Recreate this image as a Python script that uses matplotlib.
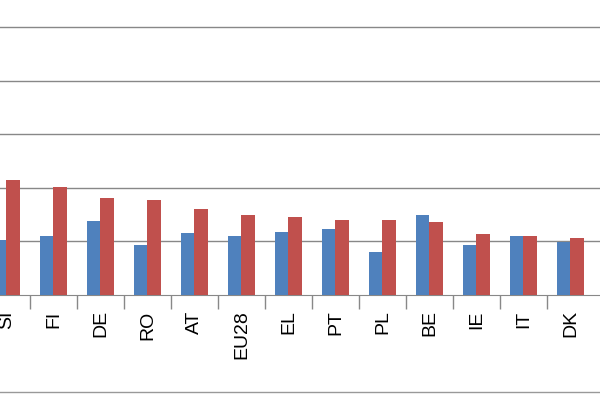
import matplotlib
matplotlib.use("Agg")
import matplotlib.pyplot as plt
import numpy as np
from matplotlib.lines import Line2D

countries = ["SI", "FI", "DE", "RO", "AT", "EU28", "EL", "PT", "PL", "BE", "IE", "IT", "DK"]
blue_vals = [1.03, 1.10, 1.38, 0.93, 1.16, 1.10, 1.18, 1.23, 0.80, 1.50, 0.93, 1.10, 0.99]
red_vals = [2.15, 2.02, 1.81, 1.78, 1.61, 1.50, 1.46, 1.40, 1.40, 1.36, 1.14, 1.10, 1.07]

plt.rcParams['font.family'] = ['Liberation Sans', 'DejaVu Sans']

fig = plt.figure(figsize=(6, 4), dpi=100)
ax = fig.add_axes([0, 0.2625, 1, 0.7375])

x = np.arange(len(countries))
w = 0.28
ax.bar(x - w / 2, blue_vals, w, color='#4F81BD', zorder=3)
ax.bar(x + w / 2, red_vals, w, color='#C0504D', zorder=3)

ax.set_xlim(-0.138, 12.63)
ax.set_ylim(0, 5.51)
ax.set_yticks([1, 2, 3, 4, 5])
ax.yaxis.grid(True, color='#888888', linewidth=1, zorder=0)
ax.tick_params(axis='y', length=0, labelleft=False)

ax.set_xticks(x)
ax.set_xticklabels(countries, rotation=90, fontsize=14)
ax.tick_params(axis='x', which='major', length=0, pad=11)
ax.set_xticks(x[:-1] + 0.5, minor=True)
ax.tick_params(axis='x', which='minor', length=10, color='#888888', width=1)

for s in ['top', 'left', 'right']:
    ax.spines[s].set_visible(False)
ax.spines['bottom'].set_color('#888888')

fig.add_artist(Line2D([0, 1], [0.02, 0.02], color='#999999', linewidth=1))

fig.savefig("out.png", dpi=100)
